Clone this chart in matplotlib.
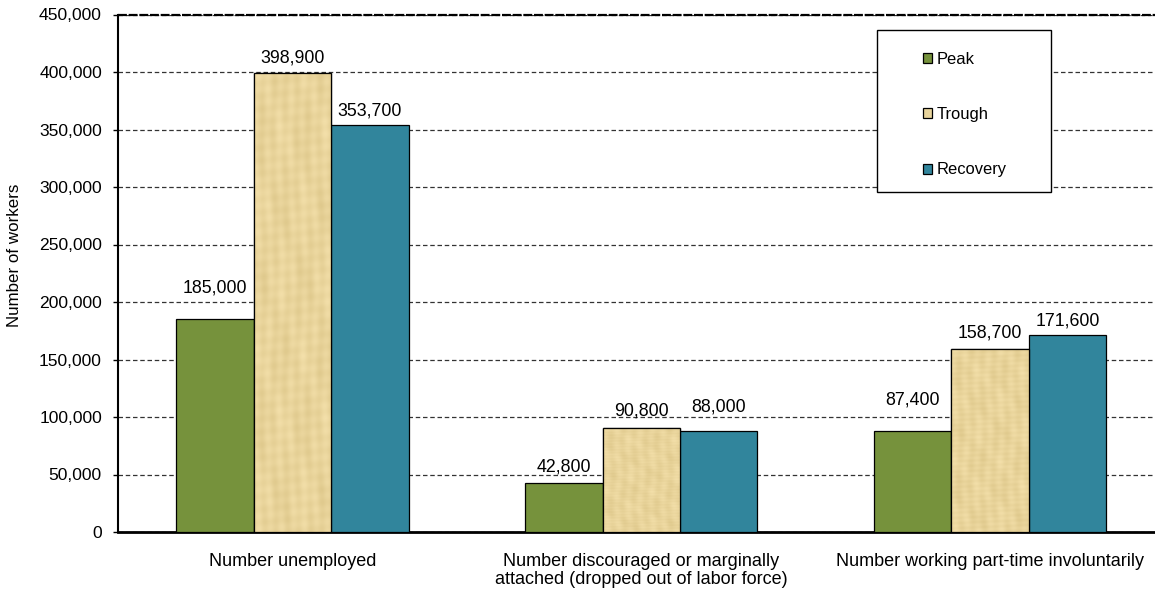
import matplotlib
matplotlib.use("Agg")
import matplotlib.pyplot as plt
import numpy as np
from matplotlib.patches import Rectangle
from matplotlib.ticker import FuncFormatter

categories = [
    "Number unemployed",
    "Number discouraged or marginally\nattached (dropped out of labor force)",
    "Number working part-time involuntarily",
]
series_names = ["Peak", "Trough", "Recovery"]
peak = [185000, 42800, 87400]
trough = [398900, 90800, 158700]
recovery = [353700, 88000, 171600]
y_ticks = list(range(0, 450001, 50000))

colors = ["#76923C", "#E8D49C", "#31859C"]
# gap in pixels between each value label's baseline and its bar top
label_gaps = [[27, 11, 27], [11, 12, 12], [10, 19, 9.5]]

plt.rcParams["font.family"] = ["Liberation Sans", "DejaVu Sans"]


def papyrus(h=240, w=60):
    # soft fibrous tan pattern: vertical fibres plus a few faint blotches
    yy, xx = np.mgrid[0:h, 0:w].astype(float)
    t = (0.40 * np.sin(xx * 0.71 + 0.8 * np.sin(yy * 0.045))
         + 0.25 * np.sin(yy * 0.93 + xx * 0.07)
         + 0.35 * np.sin(xx * 0.19 + 0.6) * np.sin(yy * 0.083 + 2.0)
         + 0.20 * np.sin(xx * 0.37 - yy * 0.21))
    base = np.array([233, 212, 155]) / 255.0
    img = base[None, None, :] + t[..., None] * np.array([9, 10, 13]) / 255.0
    return np.clip(img, 0, 1)


W, H = 1155, 595
fig = plt.figure(figsize=(W / 100, H / 100), dpi=100)
ax = fig.add_axes([118 / W, 63 / H, 1046.5 / W, 517.5 / H])

x = np.arange(len(categories))
width = 0.222
handles = []
tex = papyrus()
for i, vals in enumerate([peak, trough, recovery]):
    pos = x + (i - 1) * width
    bars = ax.bar(pos, vals, width, color=colors[i], edgecolor="black",
                  linewidth=0.9, zorder=3, label=series_names[i])
    handles.append(bars)
    if series_names[i] == "Trough":
        for b in bars:
            bx, by = b.get_x(), b.get_y()
            im = ax.imshow(tex, extent=(bx, bx + b.get_width(), by, by + b.get_height()),
                           aspect="auto", interpolation="bilinear", zorder=3.05)
            im.set_clip_path(b)
        ax.bar(pos, vals, width, fill=False, edgecolor="black",
               linewidth=0.9, zorder=3.1)
    for xc, v, gap in zip(pos, vals, label_gaps[i]):
        ax.annotate(f"{v:,}", (xc, v), xytext=(0, gap),
                    textcoords="offset pixels", ha="center", va="baseline",
                    fontsize=12.8, color="black", zorder=4)

ax.set_xlim(-0.5, len(categories) - 0.5)
ax.set_ylim(0, 450000)
ax.set_yticks(y_ticks)
ax.yaxis.set_major_formatter(FuncFormatter(lambda v, p: f"{int(v):,}"))
ax.set_xticks(x)
ax.set_xticklabels(categories, fontsize=13, linespacing=1.1)

ax.set_axisbelow(True)
ax.yaxis.grid(True, linestyle=(0, (3.6, 2.2)), color="#333333", linewidth=0.9)
ax.axhline(450000, color="black", linewidth=1.6, linestyle=(0, (4, 0.8)),
           zorder=2, clip_on=False)

for side in ["top", "right"]:
    ax.spines[side].set_visible(False)
ax.spines["left"].set_linewidth(1.5)
ax.spines["bottom"].set_linewidth(2)

ax.tick_params(axis="y", length=3.6, width=1, pad=8, labelsize=12.6)
ax.tick_params(axis="x", length=0, pad=15)

fig.text(15 / W, 1 - 255 / H, "Number of workers", rotation=90,
         ha="center", va="center", fontsize=12.2)

# legend box drawn separately so its padding can be set freely
ax.add_patch(Rectangle((877 / W, 1 - 192 / H), 174 / W, 162 / H,
                       transform=fig.transFigure, facecolor="white",
                       edgecolor="black", linewidth=1, zorder=4,
                       clip_on=False))
leg = ax.legend(handles, series_names, loc="upper left",
                bbox_to_anchor=(923 / W, 1 - 51.5 / H),
                bbox_transform=fig.transFigure, frameon=False,
                handlelength=0.55, handleheight=0.55, handletextpad=0.3,
                labelspacing=2.45, fontsize=11.9, borderpad=0, borderaxespad=0)
leg.set_zorder(5)

fig.savefig("out.png", dpi=100)
